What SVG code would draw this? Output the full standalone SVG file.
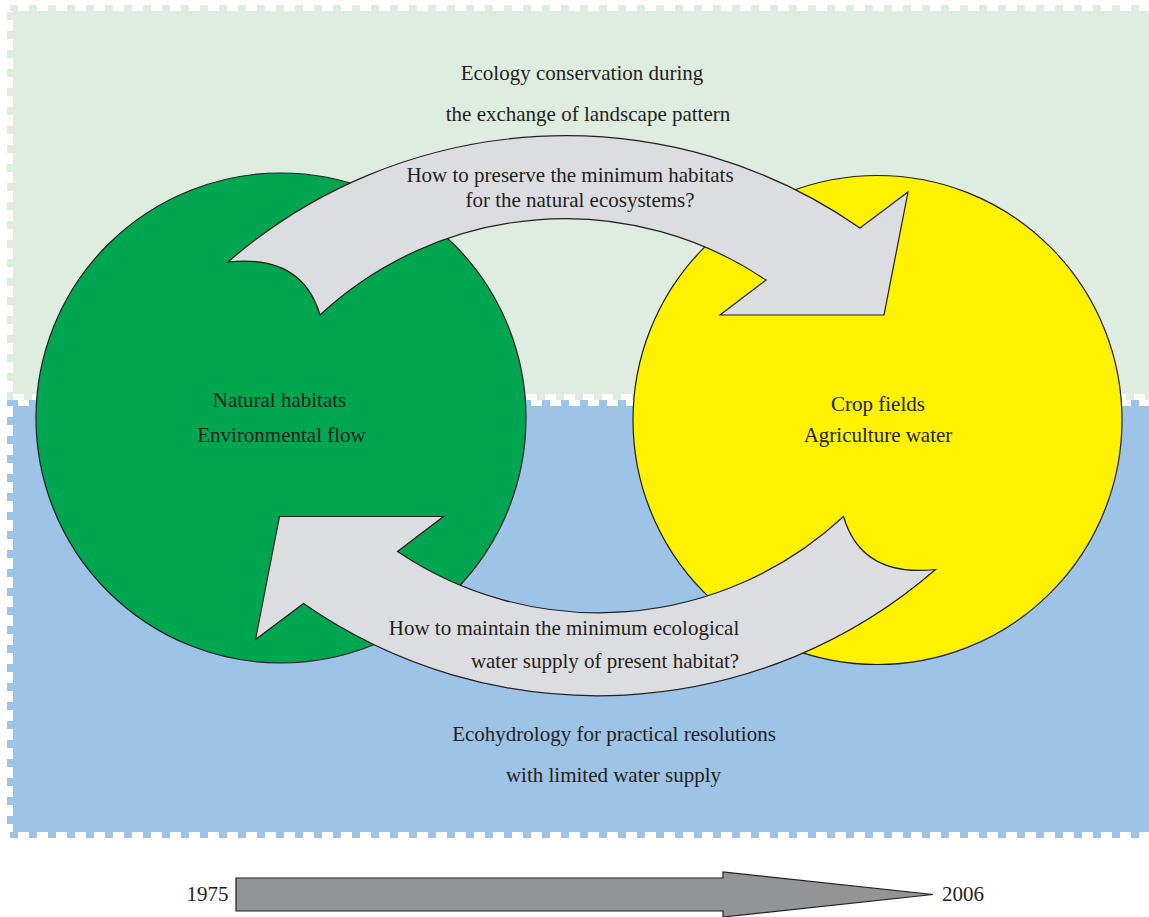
<svg xmlns="http://www.w3.org/2000/svg" xmlns:xlink="http://www.w3.org/1999/xlink" width="1149" height="917" viewBox="0 0 1149 917">
  <style>
    .txt { font-family: "Liberation Serif", "Times New Roman", serif; font-size: 21px; fill: #231f20; text-anchor: middle; }
    .edge { stroke: #231f20; stroke-width: 1.2; }
    .band { fill: none; stroke-width: 6; stroke-dasharray: 8 11; }
  </style>
  <defs>
    <!-- curved feedback arrow running from the left habitat to the right field -->
    <path id="loopArrow" d="M 228,262 A 515 515 0 0 1 860,228 L 908,192 L 884,315 L 720,315 L 766,280 A 360 360 0 0 0 320,315 Q 302,254 228,262 Z"/>
  </defs>

  <rect width="1149" height="917" fill="#ffffff"/>

  <!-- upper zone: landscape pattern -->
  <g id="zone-ecology">
    <rect x="13" y="11" width="1150" height="383" fill="#deeddf"/>
    <rect x="10" y="8" width="1156" height="389" class="band" stroke="#deeddf"/>
  </g>

  <!-- lower zone: ecohydrology -->
  <g id="zone-hydrology">
    <rect x="13" y="406" width="1150" height="426" fill="#9dc3e6"/>
    <rect x="10" y="403" width="1156" height="432" class="band" stroke="#9dc3e6"/>
  </g>

  <g id="natural-habitats">
    <circle cx="281" cy="418" r="245" fill="#00a550" class="edge"/>
  </g>

  <g id="crop-fields">
    <circle cx="877.5" cy="420" r="244.5" fill="#fff200" class="edge"/>
  </g>

  <g id="connectors">
    <use id="arrow-preserve" xlink:href="#loopArrow" fill="#dcdde0" class="edge"/>
    <use id="arrow-maintain" xlink:href="#loopArrow" transform="rotate(180 581.75 415.75)" fill="#dcdde0" class="edge"/>
    <path id="timeline" d="M 236,878 L 723,878 L 723,872 L 933,894.5 L 723,917 L 723,911 L 236,911 Z" fill="#929497" class="edge"/>
  </g>

  <g id="labels">
    <text class="txt" x="582" y="80">Ecology conservation during</text>
    <text class="txt" x="588" y="121">the exchange of landscape pattern</text>
    <text class="txt" x="570" y="182">How to preserve the minimum habitats</text>
    <text class="txt" x="580" y="207">for the natural ecosystems?</text>
    <text class="txt" x="279.5" y="407">Natural habitats</text>
    <text class="txt" x="281.5" y="442">Environmental flow</text>
    <text class="txt" x="878" y="411">Crop fields</text>
    <text class="txt" x="878" y="442">Agriculture water</text>
    <text class="txt" x="564" y="635">How to maintain the minimum ecological</text>
    <text class="txt" x="605" y="668">water supply of present habitat?</text>
    <text class="txt" x="614" y="741">Ecohydrology for practical resolutions</text>
    <text class="txt" x="613.5" y="782">with limited water supply</text>
    <text class="txt" x="207.5" y="901">1975</text>
    <text class="txt" x="963" y="901">2006</text>
  </g>
</svg>
